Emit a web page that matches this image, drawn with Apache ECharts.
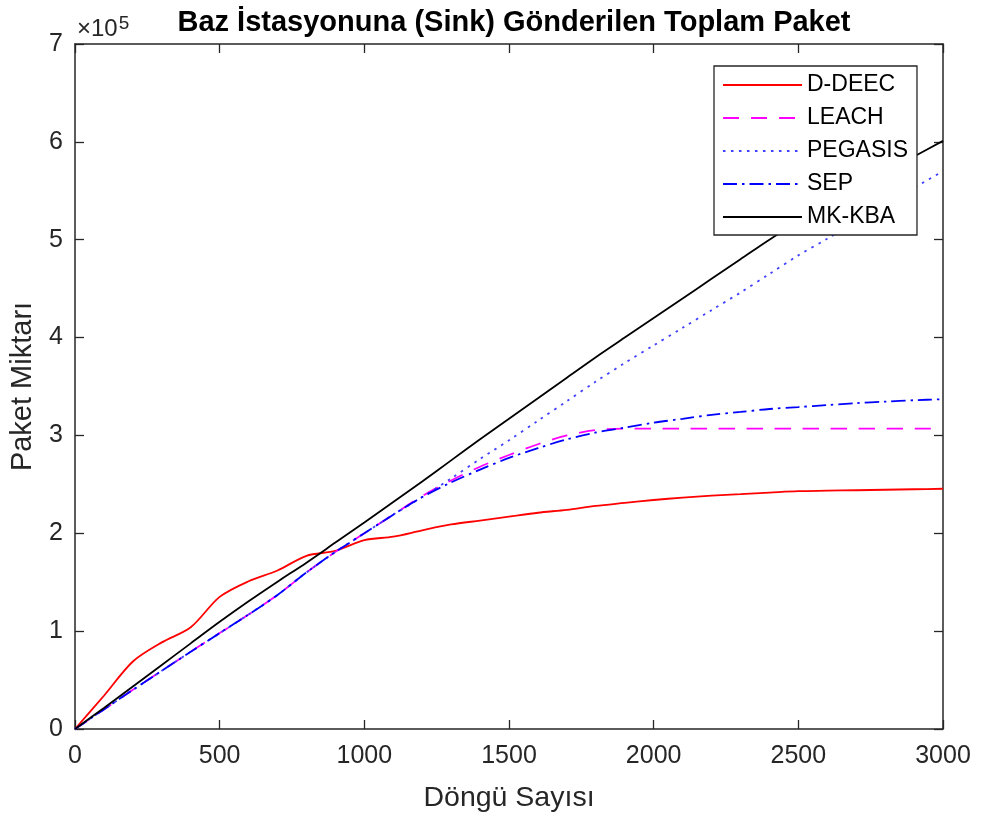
<!DOCTYPE html>
<html>
<head>
<meta charset="utf-8">
<script src="https://cdn.jsdelivr.net/npm/echarts@6/dist/echarts.min.js"></script>
<style>
html,body{margin:0;padding:0;background:#fff;}
#chart{width:981px;height:823px;}
</style>
</head>
<body>
<div id="chart"></div>
<script>
// Data (y values in units of 10^5 packets)
const rounds = [0,100,200,300,400,500,600,700,800,900,1000,1100,1200,1300,1400,1500,1600,1700,1800,1900,2000,2100,2200,2300,2400,2500,2600,2700,2800,2900,3000];
const ddeec  = [0,0.34,0.69,0.885,1.04,1.35,1.51,1.62,1.77,1.82,1.93,1.965,2.03,2.09,2.13,2.17,2.21,2.24,2.28,2.31,2.34,2.365,2.385,2.40,2.415,2.43,2.435,2.44,2.445,2.45,2.455];
const leach  = [0,0.20,0.40,0.595,0.79,0.98,1.17,1.37,1.60,1.81,2.00,2.19,2.38,2.54,2.68,2.80,2.91,3.00,3.055,3.07,3.07,3.07,3.07,3.07,3.07,3.07,3.07,3.07,3.07,3.07,3.07];
const pegasis= [0,0.20,0.40,0.595,0.79,0.98,1.17,1.37,1.60,1.81,2.00,2.19,2.37,2.56,2.76,2.95,3.15,3.35,3.55,3.74,3.92,4.10,4.28,4.46,4.65,4.84,5.01,5.18,5.36,5.53,5.70];
const sep    = [0,0.20,0.40,0.595,0.79,0.98,1.17,1.37,1.60,1.81,2.00,2.19,2.37,2.52,2.65,2.77,2.87,2.96,3.03,3.08,3.13,3.17,3.21,3.24,3.27,3.29,3.31,3.33,3.345,3.36,3.37];
const mkkba  = [0,0.215,0.435,0.655,0.875,1.095,1.305,1.505,1.70,1.905,2.11,2.32,2.53,2.745,2.96,3.17,3.38,3.59,3.80,4.00,4.20,4.40,4.60,4.80,5.00,5.18,5.35,5.52,5.69,5.85,6.01];
const seriesNames = ['D-DEEC','LEACH','PEGASIS','SEP','MK-KBA'];
const xTicks = {min:0, max:3000, interval:500};
const yTicks = {min:0, max:7, interval:1};

const FONT = 'Liberation Sans, Arial, Helvetica, sans-serif';
const AX = '#262626';
const pair = arr => rounds.map((r,i)=>[r,arr[i]]);

const chart = echarts.init(document.getElementById('chart'), null, {renderer:'canvas'});
const baseX = {
  type:'value', min:xTicks.min, max:xTicks.max, interval:xTicks.interval,
  axisLine:{show:true, onZero:false, lineStyle:{color:AX, width:1.5}},
  axisTick:{show:true, inside:true, length:9, lineStyle:{color:AX, width:1.3}},
  splitLine:{show:false}
};
const baseY = {
  type:'value', min:yTicks.min, max:yTicks.max, interval:yTicks.interval,
  axisLine:{show:true, onZero:false, lineStyle:{color:AX, width:1.5}},
  axisTick:{show:true, inside:true, length:9, lineStyle:{color:AX, width:1.3}},
  splitLine:{show:false}
};
const lw = 1.8;
const mk = (name, data, color, type) => ({
  name, type:'line', data:pair(data), symbol:'none', showSymbol:false,
  smooth:0.3,
  xAxisIndex:0, yAxisIndex:0, animation:false,
  lineStyle:{color, width:lw, type},
  itemStyle:{color}
});
chart.setOption({
  animation:false,
  backgroundColor:'#fff',
  title:{
    text:'Baz İstasyonuna (Sink) Gönderilen Toplam Paket',
    left:509, top:3, textAlign:'center',
    textStyle:{fontFamily:FONT, fontSize:29, fontWeight:'bold', color:'#000'}
  },
  grid:{left:75, right:38, top:44, bottom:94, containLabel:false},
  xAxis:[
    Object.assign({}, baseX, {position:'bottom',
      name:'Döngü Sayısı', nameLocation:'middle', nameGap:55,
      nameTextStyle:{fontFamily:FONT, fontSize:28.5, color:AX},
      axisLabel:{show:true, margin:15, fontFamily:FONT, fontSize:25, color:AX,
        formatter:v=>String(v)}}),
    Object.assign({}, baseX, {position:'top', axisLabel:{show:false}})
  ],
  yAxis:[
    Object.assign({}, baseY, {position:'left',
      name:'Paket Miktarı', nameLocation:'middle', nameGap:38,
      nameTextStyle:{fontFamily:FONT, fontSize:29, color:AX},
      axisLabel:{show:true, margin:12, fontFamily:FONT, fontSize:25, color:AX,
        formatter:v=>String(v)}}),
    Object.assign({}, baseY, {position:'right', axisLabel:{show:false}})
  ],
  legend:{
    data:seriesNames, orient:'vertical', left:714, top:66,
    padding:[6,9,5,8], itemGap:7, itemWidth:79, itemHeight:14,
    backgroundColor:'#fff', borderColor:AX, borderWidth:1.3, borderRadius:0,
    textStyle:{fontFamily:FONT, fontSize:23, color:'#000', lineHeight:26},
    itemStyle:{opacity:0}
  },
  graphic:[{
    type:'text', left:77, top:14,
    style:{
      text:'×10{s|5}', fontFamily:FONT, fontSize:24, fill:AX,
      rich:{s:{fontSize:19, verticalAlign:'top', padding:[0,0,12,1], fontFamily:FONT, color:AX}}
    }
  }],
  series:[
    mk('D-DEEC', ddeec, '#ff0000', 'solid'),
    mk('LEACH', leach, '#ff00ff', [16,12]),
    mk('PEGASIS', pegasis, '#4040ff', [2.5,5.5]),
    mk('SEP', sep, '#0000ff', [14,5,2.5,5]),
    mk('MK-KBA', mkkba, '#000000', 'solid')
  ]
});
</script>
</body>
</html>
